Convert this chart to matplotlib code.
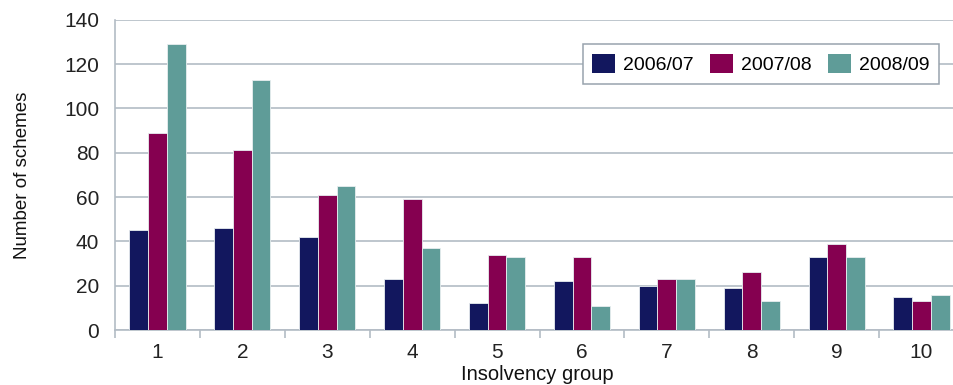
import matplotlib
matplotlib.use("Agg")
import matplotlib.pyplot as plt
import numpy as np

groups = ["1", "2", "3", "4", "5", "6", "7", "8", "9", "10"]
series_names = ["2006/07", "2007/08", "2008/09"]
schemes_0607 = [45, 46, 42, 23, 12, 22, 20, 19, 33, 15]
schemes_0708 = [89, 81, 61, 59, 34, 33, 23, 26, 39, 13]
schemes_0809 = [129, 113, 65, 37, 33, 11, 23, 13, 33, 16]
y_ticks = [0, 20, 40, 60, 80, 100, 120, 140]

colors = ["#12175e", "#850050", "#5f9c98"]
grid_col = "#b3bcc5"

plt.rcParams["font.family"] = ["Liberation Sans", "DejaVu Sans"]

W, H = 954, 385
fig = plt.figure(figsize=(W / 100, H / 100), dpi=100)
# plot area runs slightly past the right edge of the figure
left, right, top, bottom = 115, 964, 19.7, 330
ax = fig.add_axes([left / W, 1 - bottom / H, (right - left) / W, (bottom - top) / H])

x = np.arange(1, len(groups) + 1)
w = 0.221
for i, (vals, name) in enumerate(zip([schemes_0607, schemes_0708, schemes_0809], series_names)):
    ax.bar(x + (i - 1) * w, vals, width=w, color=colors[i], edgecolor="#e8eef0",
           linewidth=0.6, label=name, zorder=3)

ax.set_xlim(0.5, 10.5)
ax.set_ylim(0, 140)
ax.set_yticks(y_ticks)
ax.yaxis.grid(True, color=grid_col, linewidth=1.2, zorder=0)
ax.set_axisbelow(True)

ax.set_xticks(x)
ax.set_xticklabels(groups)
ax.set_xticks(np.arange(0.5, 11, 1), minor=True)
ax.tick_params(axis="x", which="major", length=0, pad=9.5, labelsize=15, labelcolor="#222222")
ax.tick_params(axis="x", which="minor", length=5.5, width=1.2, color=grid_col, direction="out")
ax.tick_params(axis="y", length=0, pad=11.5, labelsize=15, labelcolor="#222222")

for side in ["top", "right"]:
    ax.spines[side].set_visible(False)
for side in ["left", "bottom"]:
    ax.spines[side].set_color(grid_col)
    ax.spines[side].set_linewidth(1.2)

ax.set_ylabel("Number of schemes", fontsize=13.5, color="#111111")
ax.yaxis.label.set_va("center")
ax.yaxis.set_label_coords((23 - left) / (right - left), 0.5)

ax.set_xlabel("Insolvency group", fontsize=14.5, color="#111111")
ax.xaxis.label.set_va("baseline")
ax.xaxis.set_label_coords((537.5 - left) / (right - left), -(380 - bottom) / (bottom - top))

leg = ax.legend(loc="upper left",
                bbox_to_anchor=((582.7 - left) / (right - left), 1 - (44 - top) / (bottom - top)),
                ncol=3, frameon=True, fancybox=False, framealpha=1,
                handlelength=1.18, handleheight=1.17, handletextpad=0.4,
                columnspacing=0.85, borderpad=0.5, borderaxespad=0,
                prop={"size": 14})
leg.get_frame().set_edgecolor("#98a3ad")
leg.get_frame().set_linewidth(1.1)
for h in leg.legend_handles:
    h.set_edgecolor("none")

fig.savefig("out.png", dpi=100)
